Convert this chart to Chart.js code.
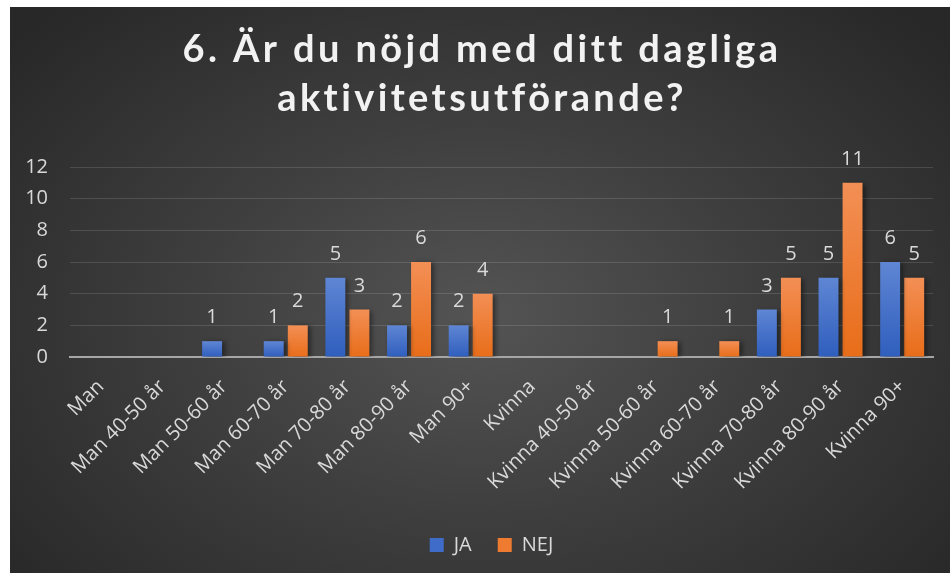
<!DOCTYPE html>
<html>
<head>
<meta charset="utf-8">
<script src="https://cdn.jsdelivr.net/npm/chart.js@4.4.1/dist/chart.umd.min.js"></script>
<style>
  html, body { margin: 0; padding: 0; background: #fff; }
  #wrap {
    position: absolute;
    left: 10px; top: 7px;
    width: 940px; height: 566px;
    background: radial-gradient(ellipse 65% 75% at 50% 55%, #545454 0%, #3f3f3f 45%, #282828 100%);
  }
</style>
</head>
<body>
<div id="wrap"><canvas id="chart" width="940" height="566"></canvas></div>
<script>
const titleLines = ["6. Är du nöjd med ditt dagliga", "aktivitetsutförande?"];
const categories = [
  "Man", "Man 40-50 år", "Man 50-60 år", "Man 60-70 år", "Man 70-80 år",
  "Man 80-90 år", "Man 90+", "Kvinna", "Kvinna 40-50 år", "Kvinna 50-60 år",
  "Kvinna 60-70 år", "Kvinna 70-80 år", "Kvinna 80-90 år", "Kvinna 90+"
];
const jaValues = [0, 0, 1, 1, 5, 2, 2, 0, 0, 0, 0, 3, 5, 6];
const nejValues = [0, 0, 0, 2, 3, 6, 4, 0, 0, 1, 1, 5, 11, 5];
const yTicks = [0, 2, 4, 6, 8, 10, 12];

const labelColor = "#d9d9d9";
const blueTop = "#5f86d4", blueBottom = "#2f5ebd", blueFlat = "#3f6cc8";
const orangeTop = "#f38f55", orangeBottom = "#e86d19", orangeFlat = "#ee7b30";

// vertical gradient for each bar, lighter at the top
function barGradient(top, bottom, flat) {
  return function (ctx) {
    const chart = ctx.chart;
    const y = chart.scales.y;
    if (!y || ctx.raw === undefined) return flat;
    const y0 = y.getPixelForValue(ctx.raw);
    const y1 = y.getPixelForValue(0);
    if (!isFinite(y0) || !isFinite(y1) || y1 - y0 < 1) return flat;
    const g = chart.ctx.createLinearGradient(0, y0, 0, y1);
    g.addColorStop(0, top);
    g.addColorStop(1, bottom);
    return g;
  };
}

// soft shadow behind the bars
const barShadow = {
  id: "barShadow",
  beforeDatasetDraw(chart) {
    const c = chart.ctx;
    c.save();
    c.shadowColor = "rgba(0,0,0,0.45)";
    c.shadowBlur = 5;
    c.shadowOffsetX = 3;
    c.shadowOffsetY = 1;
  },
  afterDatasetDraw(chart) {
    chart.ctx.restore();
  },
};

// value labels above bars (zeros are skipped)
const valueLabels = {
  id: "valueLabels",
  afterDatasetsDraw(chart) {
    const c = chart.ctx;
    c.save();
    c.font = "20px 'Open Sans'";
    c.fillStyle = labelColor;
    c.textAlign = "center";
    c.textBaseline = "alphabetic";
    chart.data.datasets.forEach((ds, i) => {
      const meta = chart.getDatasetMeta(i);
      meta.data.forEach((bar, j) => {
        const v = ds.data[j];
        if (!v) return;
        c.fillText(String(v), bar.x, bar.y - 18);
      });
    });
    c.restore();
  },
};

// spaced-out title, drawn by hand so letter spacing can be used
const spacedTitle = {
  id: "spacedTitle",
  afterDraw(chart) {
    const c = chart.ctx;
    c.save();
    c.font = "bold 38px Lato";
    if ("letterSpacing" in c) c.letterSpacing = "3.4px";
    c.fillStyle = "#f2f2f2";
    c.textAlign = "center";
    c.textBaseline = "alphabetic";
    const cx = chart.width / 2 + 2;
    c.fillText(titleLines[0], cx, 55);
    c.fillText(titleLines[1], cx, 104);
    c.restore();
  },
};

// legend sits a bit right of the plot centre, like the original
const legendShift = {
  id: "legendShift",
  afterLayout(chart) {
    chart.legend.left += 20;
    chart.legend.right += 20;
  },
};

new Chart(document.getElementById("chart"), {
  type: "bar",
  data: {
    labels: categories,
    datasets: [
      {
        label: "JA",
        data: jaValues,
        backgroundColor: barGradient(blueTop, blueBottom, blueFlat),
        categoryPercentage: 0.78,
        barPercentage: 0.83,
      },
      {
        label: "NEJ",
        data: nejValues,
        backgroundColor: barGradient(orangeTop, orangeBottom, orangeFlat),
        categoryPercentage: 0.78,
        barPercentage: 0.83,
      },
    ],
  },
  options: {
    responsive: false,
    animation: false,
    layout: { padding: { left: 0, right: 17, top: 160, bottom: 8 } },
    plugins: {
      title: { display: false },
      legend: {
        position: "bottom",
        labels: {
          color: labelColor,
          font: { family: "'Open Sans'", size: 20 },
          boxWidth: 14,
          boxHeight: 14,
          padding: 26,
          generateLabels(chart) {
            const flats = [blueFlat, orangeFlat];
            return chart.data.datasets.map((ds, i) => ({
              text: ds.label,
              fillStyle: flats[i],
              strokeStyle: flats[i],
              lineWidth: 0,
              fontColor: labelColor,
              datasetIndex: i,
              hidden: false,
            }));
          },
        },
      },
      tooltip: { enabled: false },
    },
    scales: {
      x: {
        grid: { display: false },
        border: { color: "#a6a6a6", width: 2 },
        ticks: {
          color: labelColor,
          font: { family: "'Open Sans'", size: 20 },
          minRotation: 45,
          maxRotation: 45,
          autoSkip: false,
          padding: 10,
        },
        afterFit(scale) { scale.height = 152; },
      },
      y: {
        min: 0,
        max: 12,
        afterBuildTicks(scale) { scale.ticks = yTicks.map(v => ({ value: v })); },
        grid: { color: "rgba(255,255,255,0.13)", lineWidth: 1, drawTicks: false },
        border: { display: false },
        ticks: {
          color: labelColor,
          font: { family: "'Open Sans'", size: 20 },
          padding: 22,
        },
        afterFit(scale) { scale.width = 60; },
      },
    },
  },
  plugins: [barShadow, valueLabels, spacedTitle, legendShift],
});
</script>
</body>
</html>
